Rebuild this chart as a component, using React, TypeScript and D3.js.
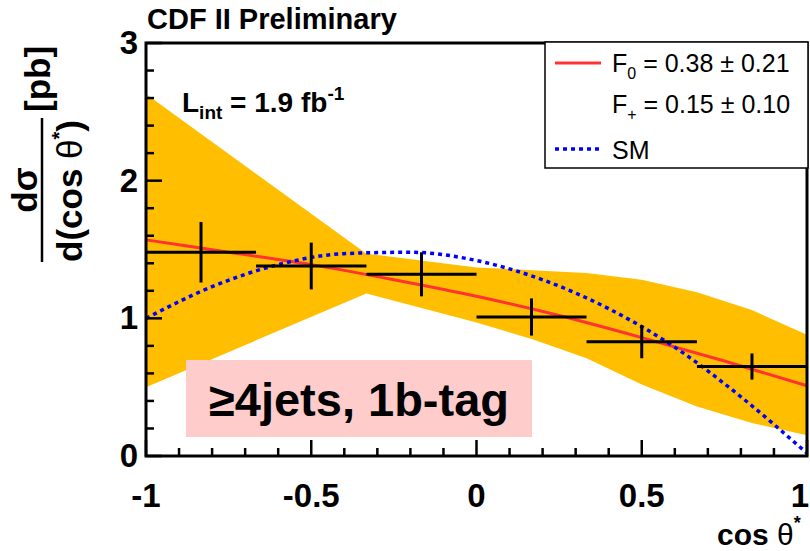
import React, { useEffect, useRef } from 'react';
import * as d3 from 'd3';

// bins in cos(theta*) and the measured points
const binEdges = [-1, -0.667, -0.333, 0, 0.333, 0.667, 1];
const dataValues = [1.48, 1.38, 1.32, 1.01, 0.83, 0.65];
const dataErrors = [0.22, 0.17, 0.16, 0.135, 0.12, 0.095];

// fit result (red) and standard model (blue dotted)
const fitX = [-1, -0.75, -0.5, -0.25, 0, 0.25, 0.5, 0.75, 1];
const fitY = [1.57, 1.48, 1.39, 1.28, 1.16, 1.02, 0.86, 0.69, 0.51];
const smX = [-1, -0.8, -0.6, -0.4, -0.2, 0, 0.2, 0.4, 0.6, 0.8, 1];
const smY = [1.0, 1.23, 1.39, 1.47, 1.48, 1.42, 1.28, 1.07, 0.79, 0.43, 0.02];

// orange uncertainty band
const bandX = [-1, -0.667, -0.333, 0, 0.167, 0.333, 0.5, 0.667, 0.833, 1];
const bandLow = [0.5, 0.84, 1.18, 0.97, 0.85, 0.71, 0.52, 0.36, 0.24, 0.15];
const bandHigh = [2.63, 2.05, 1.47, 1.37, 1.35, 1.33, 1.28, 1.19, 1.06, 0.88];

const xMajor = [-1, -0.5, 0, 0.5, 1];
const yMajor = [0, 1, 2, 3];

const W = 810;
const H = 551;
const font = '"Liberation Sans", Arial, Helvetica, sans-serif';

export default function App() {
  const ref = useRef<SVGSVGElement>(null);

  useEffect(() => {
    const svg = d3.select(ref.current);
    svg.selectAll('*').remove();

    const x = d3.scaleLinear().domain([-1, 1]).range([146, 807]);
    const y = d3.scaleLinear().domain([0, 3]).range([456, 43]);

    // band
    const area = d3.area<number>()
      .x((_, i) => x(bandX[i]))
      .y0((_, i) => y(bandLow[i]))
      .y1((_, i) => y(bandHigh[i]));
    svg.append('path')
      .datum(bandX)
      .attr('d', area)
      .attr('fill', '#ffbf00');

    // pink label box
    svg.append('rect')
      .attr('x', 186).attr('y', 360).attr('width', 346).attr('height', 77)
      .attr('fill', '#ffcccc');
    svg.append('text')
      .attr('x', 359).attr('y', 416)
      .attr('text-anchor', 'middle')
      .attr('font-family', font).attr('font-weight', 'bold').attr('font-size', 47)
      .text('≥4jets, 1b-tag');

    // fit line
    const fitLine = d3.line<number>()
      .x((d) => x(d))
      .y((_, i) => y(fitY[i]))
      .curve(d3.curveMonotoneX);
    svg.append('path')
      .datum(fitX)
      .attr('d', fitLine)
      .attr('fill', 'none')
      .attr('stroke', '#ff3333')
      .attr('stroke-width', 3);

    // SM curve
    const smLine = d3.line<number>()
      .x((d) => x(d))
      .y((_, i) => y(smY[i]))
      .curve(d3.curveMonotoneX);
    svg.append('path')
      .datum(smX)
      .attr('d', smLine)
      .attr('fill', 'none')
      .attr('stroke', '#0000ff')
      .attr('stroke-width', 3.5)
      .attr('stroke-dasharray', '4,4');

    // data points with error bars
    const pts = svg.append('g').attr('stroke', 'black').attr('stroke-width', 3);
    dataValues.forEach((v, i) => {
      const lo = binEdges[i];
      const hi = binEdges[i + 1];
      const c = (lo + hi) / 2;
      pts.append('line')
        .attr('x1', x(lo)).attr('x2', x(hi))
        .attr('y1', y(v)).attr('y2', y(v));
      pts.append('line')
        .attr('x1', x(c)).attr('x2', x(c))
        .attr('y1', y(v - dataErrors[i])).attr('y2', y(v + dataErrors[i]));
    });

    // frame
    svg.append('rect')
      .attr('x', x(-1)).attr('y', y(3))
      .attr('width', x(1) - x(-1)).attr('height', y(0) - y(3))
      .attr('fill', 'none').attr('stroke', 'black').attr('stroke-width', 3);

    // ticks
    const ticks = svg.append('g').attr('stroke', 'black').attr('stroke-width', 2.5);
    d3.range(-1, 1.001, 0.1).forEach((t) => {
      const major = xMajor.some((m) => Math.abs(m - t) < 1e-6);
      ticks.append('line')
        .attr('x1', x(t)).attr('x2', x(t))
        .attr('y1', y(0)).attr('y2', y(0) - (major ? 16 : 8));
    });
    d3.range(0, 3.001, 0.2).forEach((t) => {
      const major = yMajor.some((m) => Math.abs(m - t) < 1e-6);
      ticks.append('line')
        .attr('x1', x(-1)).attr('x2', x(-1) + (major ? 16 : 8))
        .attr('y1', y(t)).attr('y2', y(t));
    });

    // tick labels
    const lab = svg.append('g')
      .attr('font-family', font).attr('font-weight', 'bold').attr('font-size', 33);
    xMajor.forEach((t) => {
      const last = t === 1;
      lab.append('text')
        .attr('x', last ? 809 : x(t)).attr('y', 507)
        .attr('text-anchor', last ? 'end' : 'middle')
        .text(String(t));
    });
    yMajor.forEach((t) => {
      lab.append('text')
        .attr('x', 138).attr('y', y(t) + 11)
        .attr('text-anchor', 'end')
        .text(String(t));
    });

    // title
    svg.append('text')
      .attr('x', 147).attr('y', 29)
      .attr('font-family', font).attr('font-weight', 'bold').attr('font-size', 29)
      .text('CDF II Preliminary');

    // luminosity
    const lum = svg.append('text')
      .attr('x', 182).attr('y', 112)
      .attr('font-family', font).attr('font-weight', 'bold').attr('font-size', 28);
    lum.append('tspan').text('L');
    lum.append('tspan').attr('font-size', 19).attr('dy', 7).text('int');
    lum.append('tspan').attr('dy', -7).text(' = 1.9 fb');
    lum.append('tspan').attr('font-size', 19).attr('dy', -12).text('-1');

    // x axis title
    const xt = svg.append('text')
      .attr('x', 717).attr('y', 545)
      .attr('font-family', font).attr('font-weight', 'bold').attr('font-size', 30);
    xt.append('tspan').text('cos ');
    xt.append('tspan').attr('font-weight', 'normal').text('θ');
    xt.append('tspan').attr('font-size', 18).attr('dy', -16).text('*');

    // y axis title (fraction)
    const yl = svg.append('g')
      .attr('font-family', font).attr('font-weight', 'bold').attr('font-size', 35);
    yl.append('text')
      .attr('transform', 'translate(37,190) rotate(-90)')
      .attr('text-anchor', 'middle')
      .text('dσ');
    yl.append('line')
      .attr('x1', 42).attr('x2', 42).attr('y1', 118).attr('y2', 262)
      .attr('stroke', 'black').attr('stroke-width', 2.5);
    const den = yl.append('text')
      .attr('transform', 'translate(82,262) rotate(-90)');
    den.append('tspan').text('d(cos ');
    den.append('tspan').attr('font-weight', 'normal').text('θ');
    den.append('tspan').attr('font-size', 20).attr('dy', -16).text('*');
    den.append('tspan').attr('dy', 16).text(')');
    yl.append('text')
      .attr('transform', 'translate(50,112) rotate(-90)')
      .text('[pb]');

    // legend
    const leg = svg.append('g');
    leg.append('rect')
      .attr('x', 545).attr('y', 42).attr('width', 263).attr('height', 126)
      .attr('fill', 'white').attr('stroke', 'black').attr('stroke-width', 1.5);
    leg.append('line')
      .attr('x1', 555).attr('x2', 601).attr('y1', 63).attr('y2', 63)
      .attr('stroke', '#ff3333').attr('stroke-width', 3);
    leg.append('line')
      .attr('x1', 555).attr('x2', 601).attr('y1', 149).attr('y2', 149)
      .attr('stroke', '#0000ff').attr('stroke-width', 3.5).attr('stroke-dasharray', '4,4');
    const legText = leg.append('g')
      .attr('font-family', font).attr('font-size', 25);
    const e1 = legText.append('text').attr('x', 612).attr('y', 72);
    e1.append('tspan').text('F');
    e1.append('tspan').attr('font-size', 16).attr('dy', 7).text('0');
    e1.append('tspan').attr('dy', -7).text(' = 0.38 ± 0.21');
    const e2 = legText.append('text').attr('x', 612).attr('y', 113);
    e2.append('tspan').text('F');
    e2.append('tspan').attr('font-size', 16).attr('dy', 7).text('+');
    e2.append('tspan').attr('dy', -7).text(' = 0.15 ± 0.10');
    legText.append('text').attr('x', 612).attr('y', 159).text('SM');
  }, []);

  return (
    <svg
      ref={ref}
      width={W}
      height={H}
      viewBox={`0 0 ${W} ${H}`}
      style={{ position: 'absolute', left: 0, top: 0, background: 'white' }}
    />
  );
}
